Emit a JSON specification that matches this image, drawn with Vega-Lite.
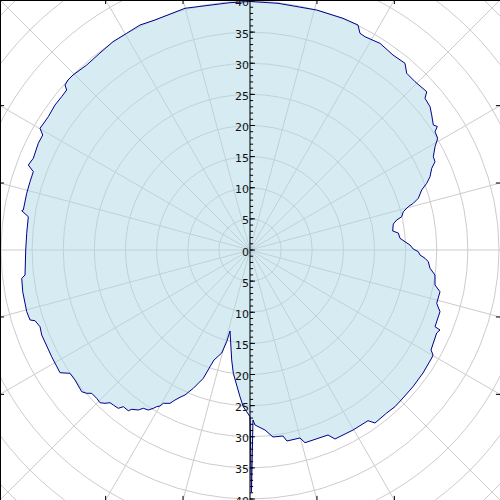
{
  "$schema": "https://vega.github.io/schema/vega-lite/v6.json",
  "width": 500,
  "height": 500,
  "padding": 0,
  "autosize": "none",
  "background": "white",
  "config": {"view": {"stroke": null}},
  "datasets": {
    "circles": [{"r": 5}, {"r": 10}, {"r": 15}, {"r": 20}, {"r": 25}, {"r": 30}, {"r": 35}, {"r": 40}, {"r": 45}, {"r": 50}, {"r": 55}],
    "spokes": [
      {"x": 0, "y": 60, "x2": 0, "y2": -60},
      {"x": 15.53, "y": 57.96, "x2": -15.53, "y2": -57.96},
      {"x": 30, "y": 51.96, "x2": -30, "y2": -51.96},
      {"x": 42.43, "y": 42.43, "x2": -42.43, "y2": -42.43},
      {"x": 51.96, "y": 30, "x2": -51.96, "y2": -30},
      {"x": 57.96, "y": 15.53, "x2": -57.96, "y2": -15.53},
      {"x": 60, "y": 0, "x2": -60, "y2": 0},
      {"x": 57.96, "y": -15.53, "x2": -57.96, "y2": 15.53},
      {"x": 51.96, "y": -30, "x2": -51.96, "y2": 30},
      {"x": 42.43, "y": -42.43, "x2": -42.43, "y2": 42.43},
      {"x": 30, "y": -51.96, "x2": -30, "y2": 51.96},
      {"x": 15.53, "y": -57.96, "x2": -15.53, "y2": 57.96}
    ],
    "outline": [
      {"i": 1, "x": 0, "y": 39.92},
      {"i": 2, "x": 4.5, "y": 39.63},
      {"i": 3, "x": 10.71, "y": 38.55},
      {"i": 4, "x": 14.94, "y": 37.22},
      {"i": 5, "x": 17.35, "y": 36.14},
      {"i": 6, "x": 17.67, "y": 34.81},
      {"i": 7, "x": 18.47, "y": 34.26},
      {"i": 8, "x": 20.88, "y": 33.2},
      {"i": 9, "x": 22.97, "y": 31.32},
      {"i": 10, "x": 24.9, "y": 29.99},
      {"i": 11, "x": 25.17, "y": 28.39},
      {"i": 12, "x": 26.51, "y": 27.04},
      {"i": 13, "x": 28.39, "y": 25.43},
      {"i": 14, "x": 28.11, "y": 24.37},
      {"i": 15, "x": 28.92, "y": 23.02},
      {"i": 16, "x": 29.19, "y": 21.69},
      {"i": 17, "x": 29.45, "y": 20.08},
      {"i": 18, "x": 30.09, "y": 19.84},
      {"i": 19, "x": 29.72, "y": 19.0},
      {"i": 20, "x": 30.15, "y": 17.94},
      {"i": 21, "x": 29.72, "y": 16.59},
      {"i": 22, "x": 29.45, "y": 14.99},
      {"i": 23, "x": 29.72, "y": 14.18},
      {"i": 24, "x": 29.19, "y": 13.12},
      {"i": 25, "x": 28.92, "y": 11.77},
      {"i": 26, "x": 28.39, "y": 10.71},
      {"i": 27, "x": 27.58, "y": 9.64},
      {"i": 28, "x": 27.04, "y": 8.31},
      {"i": 29, "x": 26.23, "y": 7.5},
      {"i": 30, "x": 25.43, "y": 6.96},
      {"i": 31, "x": 24.63, "y": 6.15},
      {"i": 32, "x": 24.37, "y": 5.35},
      {"i": 33, "x": 23.57, "y": 4.82},
      {"i": 34, "x": 23.02, "y": 4.18},
      {"i": 35, "x": 22.92, "y": 3.05},
      {"i": 36, "x": 23.82, "y": 2.73},
      {"i": 37, "x": 24.1, "y": 1.88},
      {"i": 38, "x": 24.9, "y": 1.33},
      {"i": 39, "x": 25.7, "y": 0.8},
      {"i": 40, "x": 26.23, "y": 0.16},
      {"i": 41, "x": 27.04, "y": -0.27},
      {"i": 42, "x": 27.31, "y": -0.8},
      {"i": 43, "x": 28.11, "y": -1.33},
      {"i": 44, "x": 28.64, "y": -1.88},
      {"i": 45, "x": 28.92, "y": -2.94},
      {"i": 46, "x": 29.72, "y": -4.02},
      {"i": 47, "x": 29.72, "y": -5.62},
      {"i": 48, "x": 30.52, "y": -6.7},
      {"i": 49, "x": 29.99, "y": -8.56},
      {"i": 50, "x": 30.52, "y": -9.91},
      {"i": 51, "x": 29.72, "y": -12.32},
      {"i": 52, "x": 30.52, "y": -12.85},
      {"i": 53, "x": 29.99, "y": -13.33},
      {"i": 54, "x": 29.08, "y": -16.06},
      {"i": 55, "x": 29.4, "y": -16.87},
      {"i": 56, "x": 29.19, "y": -17.35},
      {"i": 57, "x": 27.79, "y": -19.76},
      {"i": 58, "x": 26.18, "y": -21.96},
      {"i": 59, "x": 24.58, "y": -23.77},
      {"i": 60, "x": 23.29, "y": -25.17},
      {"i": 61, "x": 21.96, "y": -26.18},
      {"i": 62, "x": 20.08, "y": -27.79},
      {"i": 63, "x": 18.96, "y": -27.42},
      {"i": 64, "x": 16.55, "y": -28.92},
      {"i": 65, "x": 13.65, "y": -30.36},
      {"i": 66, "x": 12.53, "y": -29.72},
      {"i": 67, "x": 8.84, "y": -30.96},
      {"i": 68, "x": 8.03, "y": -30.2},
      {"i": 69, "x": 5.94, "y": -30.68},
      {"i": 70, "x": 5.3, "y": -29.88},
      {"i": 71, "x": 3.69, "y": -30.04},
      {"i": 72, "x": 2.41, "y": -28.92},
      {"i": 73, "x": 0.8, "y": -28.11},
      {"i": 74, "x": 0.48, "y": -27.31},
      {"i": 75, "x": 0.24, "y": -38.88},
      {"i": 76, "x": 0, "y": -26.78},
      {"i": 77, "x": -0.53, "y": -25.98},
      {"i": 78, "x": -1.08, "y": -25.17},
      {"i": 79, "x": -1.61, "y": -23.57},
      {"i": 80, "x": -2.68, "y": -19.81},
      {"i": 81, "x": -2.94, "y": -17.67},
      {"i": 82, "x": -3.21, "y": -13.01},
      {"i": 83, "x": -3.74, "y": -14.73},
      {"i": 84, "x": -4.55, "y": -16.55},
      {"i": 85, "x": -5.78, "y": -17.67},
      {"i": 86, "x": -6.43, "y": -18.75},
      {"i": 87, "x": -7.5, "y": -20.61},
      {"i": 88, "x": -9.11, "y": -22.22},
      {"i": 89, "x": -10.44, "y": -23.29},
      {"i": 90, "x": -11.24, "y": -23.66},
      {"i": 91, "x": -12.05, "y": -24.1},
      {"i": 92, "x": -12.85, "y": -24.63},
      {"i": 93, "x": -13.93, "y": -24.63},
      {"i": 94, "x": -14.46, "y": -25.06},
      {"i": 95, "x": -14.99, "y": -25.17},
      {"i": 96, "x": -15.53, "y": -25.43},
      {"i": 97, "x": -16.34, "y": -25.7},
      {"i": 98, "x": -17.14, "y": -25.43},
      {"i": 99, "x": -17.94, "y": -25.7},
      {"i": 100, "x": -19.0, "y": -25.59},
      {"i": 101, "x": -19.55, "y": -25.82},
      {"i": 102, "x": -20.35, "y": -25.17},
      {"i": 103, "x": -21.16, "y": -25.43},
      {"i": 104, "x": -21.96, "y": -24.9},
      {"i": 105, "x": -22.49, "y": -24.53},
      {"i": 106, "x": -23.29, "y": -24.63},
      {"i": 107, "x": -24.1, "y": -24.53},
      {"i": 108, "x": -24.63, "y": -23.82},
      {"i": 109, "x": -25.43, "y": -23.02},
      {"i": 110, "x": -26.23, "y": -23.02},
      {"i": 111, "x": -27.04, "y": -22.76},
      {"i": 112, "x": -28.11, "y": -20.88},
      {"i": 113, "x": -28.92, "y": -19.81},
      {"i": 114, "x": -30.52, "y": -19.71},
      {"i": 115, "x": -31.86, "y": -17.14},
      {"i": 116, "x": -33.46, "y": -13.65},
      {"i": 117, "x": -33.73, "y": -12.32},
      {"i": 118, "x": -34.54, "y": -11.36},
      {"i": 119, "x": -35.34, "y": -11.24},
      {"i": 120, "x": -35.87, "y": -9.91},
      {"i": 121, "x": -36.51, "y": -6.7},
      {"i": 122, "x": -36.67, "y": -4.55},
      {"i": 123, "x": -36.14, "y": -4.02},
      {"i": 124, "x": -36.03, "y": 0},
      {"i": 125, "x": -35.87, "y": 2.68},
      {"i": 126, "x": -35.61, "y": 5.35},
      {"i": 127, "x": -36.67, "y": 6.31},
      {"i": 128, "x": -36.42, "y": 6.43},
      {"i": 129, "x": -35.87, "y": 9.11},
      {"i": 130, "x": -35.34, "y": 10.97},
      {"i": 131, "x": -34.81, "y": 12.58},
      {"i": 132, "x": -35.61, "y": 13.65},
      {"i": 133, "x": -34.81, "y": 14.73},
      {"i": 134, "x": -34.01, "y": 17.14},
      {"i": 135, "x": -33.3, "y": 18.47},
      {"i": 136, "x": -33.73, "y": 19.55},
      {"i": 137, "x": -32.4, "y": 21.41},
      {"i": 138, "x": -31.33, "y": 23.29},
      {"i": 139, "x": -30.25, "y": 24.63},
      {"i": 140, "x": -29.45, "y": 25.7},
      {"i": 141, "x": -29.72, "y": 26.51},
      {"i": 142, "x": -29.24, "y": 27.31},
      {"i": 143, "x": -28.43, "y": 28.11},
      {"i": 144, "x": -26.23, "y": 29.72},
      {"i": 145, "x": -24.1, "y": 31.65},
      {"i": 146, "x": -22.01, "y": 33.46},
      {"i": 147, "x": -19.81, "y": 34.81},
      {"i": 148, "x": -17.67, "y": 36.14},
      {"i": 149, "x": -15.26, "y": 36.95},
      {"i": 150, "x": -10.44, "y": 38.83},
      {"i": 151, "x": -3.21, "y": 39.73}
    ],
    "minor": [
      {"v": -40}, {"v": -39}, {"v": -38}, {"v": -37}, {"v": -36}, {"v": -35}, {"v": -34}, {"v": -33}, {"v": -32}, {"v": -31},
      {"v": -30}, {"v": -29}, {"v": -28}, {"v": -27}, {"v": -26}, {"v": -25}, {"v": -24}, {"v": -23}, {"v": -22}, {"v": -21},
      {"v": -20}, {"v": -19}, {"v": -18}, {"v": -17}, {"v": -16}, {"v": -15}, {"v": -14}, {"v": -13}, {"v": -12}, {"v": -11},
      {"v": -10}, {"v": -9}, {"v": -8}, {"v": -7}, {"v": -6}, {"v": -5}, {"v": -4}, {"v": -3}, {"v": -2}, {"v": -1},
      {"v": 0}, {"v": 1}, {"v": 2}, {"v": 3}, {"v": 4}, {"v": 5}, {"v": 6}, {"v": 7}, {"v": 8}, {"v": 9},
      {"v": 10}, {"v": 11}, {"v": 12}, {"v": 13}, {"v": 14}, {"v": 15}, {"v": 16}, {"v": 17}, {"v": 18}, {"v": 19},
      {"v": 20}, {"v": 21}, {"v": 22}, {"v": 23}, {"v": 24}, {"v": 25}, {"v": 26}, {"v": 27}, {"v": 28}, {"v": 29},
      {"v": 30}, {"v": 31}, {"v": 32}, {"v": 33}, {"v": 34}, {"v": 35}, {"v": 36}, {"v": 37}, {"v": 38}, {"v": 39}, {"v": 40}
    ],
    "major": [
      {"v": 40, "label": "40"}, {"v": 35, "label": "35"}, {"v": 30, "label": "30"}, {"v": 25, "label": "25"},
      {"v": 20, "label": "20"}, {"v": 15, "label": "15"}, {"v": 10, "label": "10"}, {"v": 5, "label": "5"},
      {"v": 0, "label": "0"}, {"v": -5, "label": "5"}, {"v": -10, "label": "10"}, {"v": -15, "label": "15"},
      {"v": -20, "label": "20"}, {"v": -25, "label": "25"}, {"v": -30, "label": "30"}, {"v": -35, "label": "35"},
      {"v": -40, "label": "40"}
    ],
    "frameTicks": [
      {"x": 10.76, "y": 40.16, "x2": 10.76, "y2": 39.5},
      {"x": 23.19, "y": 40.16, "x2": 23.19, "y2": 39.5},
      {"x": -10.76, "y": 40.16, "x2": -10.76, "y2": 39.5},
      {"x": -23.19, "y": 40.16, "x2": -23.19, "y2": 39.5},
      {"x": 10.76, "y": -40.16, "x2": 10.76, "y2": -39.5},
      {"x": 23.19, "y": -40.16, "x2": 23.19, "y2": -39.5},
      {"x": -10.76, "y": -40.16, "x2": -10.76, "y2": -39.5},
      {"x": -23.19, "y": -40.16, "x2": -23.19, "y2": -39.5},
      {"x": -40.16, "y": 10.76, "x2": -39.5, "y2": 10.76},
      {"x": -40.16, "y": 23.19, "x2": -39.5, "y2": 23.19},
      {"x": -40.16, "y": -10.76, "x2": -39.5, "y2": -10.76},
      {"x": -40.16, "y": -23.19, "x2": -39.5, "y2": -23.19},
      {"x": 40.16, "y": 10.76, "x2": 39.5, "y2": 10.76},
      {"x": 40.16, "y": 23.19, "x2": 39.5, "y2": 23.19},
      {"x": 40.16, "y": -10.76, "x2": 39.5, "y2": -10.76},
      {"x": 40.16, "y": -23.19, "x2": 39.5, "y2": -23.19}
    ],
    "frame": [
      {"x": -40.16, "y": -40.16, "x2": -40.16, "y2": 40.16},
      {"x": -40.16, "y": 40.16, "x2": 40.16, "y2": 40.16}
    ]
  },
  "layer": [
    {
      "data": {"name": "circles"},
      "mark": {"type": "point", "shape": "circle", "filled": false, "stroke": "#cccccc", "strokeWidth": 1, "opacity": 1, "clip": true},
      "encoding": {
        "x": {"datum": 0, "type": "quantitative", "scale": {"domain": [-40.16, 40.16], "nice": false, "zero": false}, "axis": null},
        "y": {"datum": 0, "type": "quantitative", "scale": {"domain": [-40.16, 40.16], "nice": false, "zero": false}, "axis": null},
        "size": {"field": "r", "type": "quantitative", "scale": {"type": "pow", "exponent": 2, "domain": [0, 40.16], "range": [0, 250000], "zero": true}, "legend": null}
      }
    },
    {
      "data": {"name": "spokes"},
      "mark": {"type": "rule", "stroke": "#cccccc", "strokeWidth": 1, "clip": true},
      "encoding": {
        "x": {"field": "x", "type": "quantitative", "scale": {"domain": [-40.16, 40.16], "nice": false, "zero": false}, "axis": null},
        "y": {"field": "y", "type": "quantitative", "scale": {"domain": [-40.16, 40.16], "nice": false, "zero": false}, "axis": null},
        "x2": {"field": "x2"},
        "y2": {"field": "y2"}
      }
    },
    {
      "data": {"name": "outline"},
      "mark": {"type": "line", "interpolate": "linear-closed", "fill": "#add8e6", "fillOpacity": 0.5, "stroke": "#00008b", "strokeWidth": 1, "clip": true},
      "encoding": {
        "x": {"field": "x", "type": "quantitative", "scale": {"domain": [-40.16, 40.16], "nice": false, "zero": false}, "axis": null},
        "y": {"field": "y", "type": "quantitative", "scale": {"domain": [-40.16, 40.16], "nice": false, "zero": false}, "axis": null},
        "order": {"field": "i", "type": "quantitative"}
      }
    },
    {
      "data": {"values": [{"a": 1}]},
      "mark": {"type": "rule", "stroke": "black", "strokeWidth": 1},
      "encoding": {
        "x": {"datum": 0, "type": "quantitative", "scale": {"domain": [-40.16, 40.16], "nice": false, "zero": false}, "axis": null}
      }
    },
    {
      "data": {"name": "minor"},
      "mark": {"type": "rule", "stroke": "black", "strokeWidth": 1},
      "encoding": {
        "x": {"datum": 0, "type": "quantitative", "scale": {"domain": [-40.16, 40.16], "nice": false, "zero": false}, "axis": null},
        "x2": {"datum": 0.5},
        "y": {"field": "v", "type": "quantitative", "scale": {"domain": [-40.16, 40.16], "nice": false, "zero": false}, "axis": null}
      }
    },
    {
      "data": {"name": "major"},
      "mark": {"type": "rule", "stroke": "black", "strokeWidth": 1},
      "encoding": {
        "x": {"datum": 0, "type": "quantitative", "scale": {"domain": [-40.16, 40.16], "nice": false, "zero": false}, "axis": null},
        "x2": {"datum": 0.8},
        "y": {"field": "v", "type": "quantitative", "scale": {"domain": [-40.16, 40.16], "nice": false, "zero": false}, "axis": null}
      }
    },
    {
      "data": {"name": "major"},
      "mark": {"type": "text", "align": "right", "baseline": "middle", "dx": -1, "dy": 2.5, "font": "DejaVu Sans", "fontSize": 11, "color": "#111111"},
      "encoding": {
        "x": {"datum": 0, "type": "quantitative", "scale": {"domain": [-40.16, 40.16], "nice": false, "zero": false}, "axis": null},
        "y": {"field": "v", "type": "quantitative", "scale": {"domain": [-40.16, 40.16], "nice": false, "zero": false}, "axis": null},
        "text": {"field": "label"}
      }
    },
    {
      "data": {"name": "frameTicks"},
      "mark": {"type": "rule", "stroke": "black", "strokeWidth": 1},
      "encoding": {
        "x": {"field": "x", "type": "quantitative", "scale": {"domain": [-40.16, 40.16], "nice": false, "zero": false}, "axis": null},
        "y": {"field": "y", "type": "quantitative", "scale": {"domain": [-40.16, 40.16], "nice": false, "zero": false}, "axis": null},
        "x2": {"field": "x2"},
        "y2": {"field": "y2"}
      }
    },
    {
      "data": {"name": "frame"},
      "mark": {"type": "rule", "stroke": "black", "strokeWidth": 2},
      "encoding": {
        "x": {"field": "x", "type": "quantitative", "scale": {"domain": [-40.16, 40.16], "nice": false, "zero": false}, "axis": null},
        "y": {"field": "y", "type": "quantitative", "scale": {"domain": [-40.16, 40.16], "nice": false, "zero": false}, "axis": null},
        "x2": {"field": "x2"},
        "y2": {"field": "y2"}
      }
    }
  ]
}
